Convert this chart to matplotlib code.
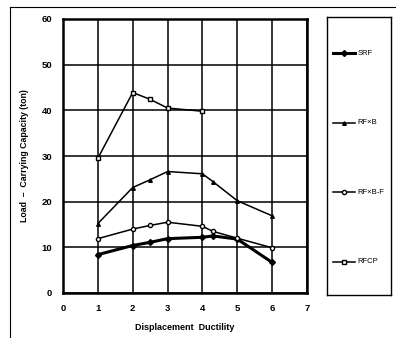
import matplotlib.pyplot as plt
from matplotlib.lines import Line2D

# data
duct = [1, 2, 2.5, 3, 4, 4.3, 5, 6]
srf = [8.4, 10.4, 11.1, 11.9, 12.2, 12.5, 11.8, 6.7]
rfxb = [15.2, 23.1, 24.8, 26.6, 26.1, 24.4, 20.2, 16.9]
rfxbf = [11.9, 14.0, 14.8, 15.5, 14.6, 13.5, 12.0, 9.9]
duct_cp = [1, 2, 2.5, 3, 4]
rfcp = [29.5, 43.9, 42.4, 40.5, 39.8]
labels = ['SRF', 'RF\u00d7B', 'RF\u00d7B-F', 'RFCP']
xticks = [0, 1, 2, 3, 4, 5, 6, 7]
yticks = [0, 10, 20, 30, 40, 50, 60]

plt.rcParams['font.family'] = ['Liberation Sans', 'DejaVu Sans']

fig = plt.figure(figsize=(3.96, 3.38), dpi=100)
ax = fig.add_axes([63/396, 1-293/338, 244/396, 274/338])

styles = [
    dict(lw=2.2, marker='D', ms=3.0, mfc='black'),
    dict(lw=1.1, marker='^', ms=2.6, mfc='black'),
    dict(lw=1.1, marker='o', ms=3.0, mfc='white'),
    dict(lw=1.1, marker='s', ms=2.6, mfc='white'),
]
series = [(duct, srf), (duct, rfxb), (duct, rfxbf), (duct_cp, rfcp)]
for (xs, ys), st in zip(series, styles):
    ax.plot(xs, ys, color='black', mec='black', zorder=3, **st)

ax.set_xlim(0, 7)
ax.set_ylim(0, 60)
ax.set_xticks(xticks)
ax.set_yticks(yticks)
ax.grid(True, color='black', lw=1.1)
ax.tick_params(length=0, labelsize=6.8, pad=8)
for t in ax.get_xticklabels() + ax.get_yticklabels():
    t.set_fontweight('bold')
for sp in ax.spines.values():
    sp.set_linewidth(1.8)
ax.set_xlabel('Displacement  Ductility', fontsize=6.5, fontweight='bold', labelpad=7)
ax.set_ylabel('Load  \u2013  Carrying Capacity (ton)', fontsize=6.3, fontweight='bold', labelpad=9)

# legend panel
lax = fig.add_axes([327/396, 1-295/338, 64/396, 278/338])
lax.set_xlim(0, 1)
lax.set_ylim(0, 1)
lax.set_xticks([])
lax.set_yticks([])
for sp in lax.spines.values():
    sp.set_linewidth(1.0)
ly = [0.87, 0.62, 0.37, 0.12]
for lab, st, yy in zip(labels, styles, ly):
    lax.plot([0.09, 0.27, 0.44], [yy, yy, yy], color='black', mec='black', markevery=[1], **st)
    lax.text(0.48, yy, lab, fontsize=5.5, va='center', ha='left')

# outer frame of the scanned page
fig.add_artist(Line2D([10/396, 10/396], [0, 1-7/338], color='black', lw=0.8))
fig.add_artist(Line2D([10/396, 1], [1-7/338, 1-7/338], color='black', lw=0.8))

plt.savefig('out.png', dpi=100)
